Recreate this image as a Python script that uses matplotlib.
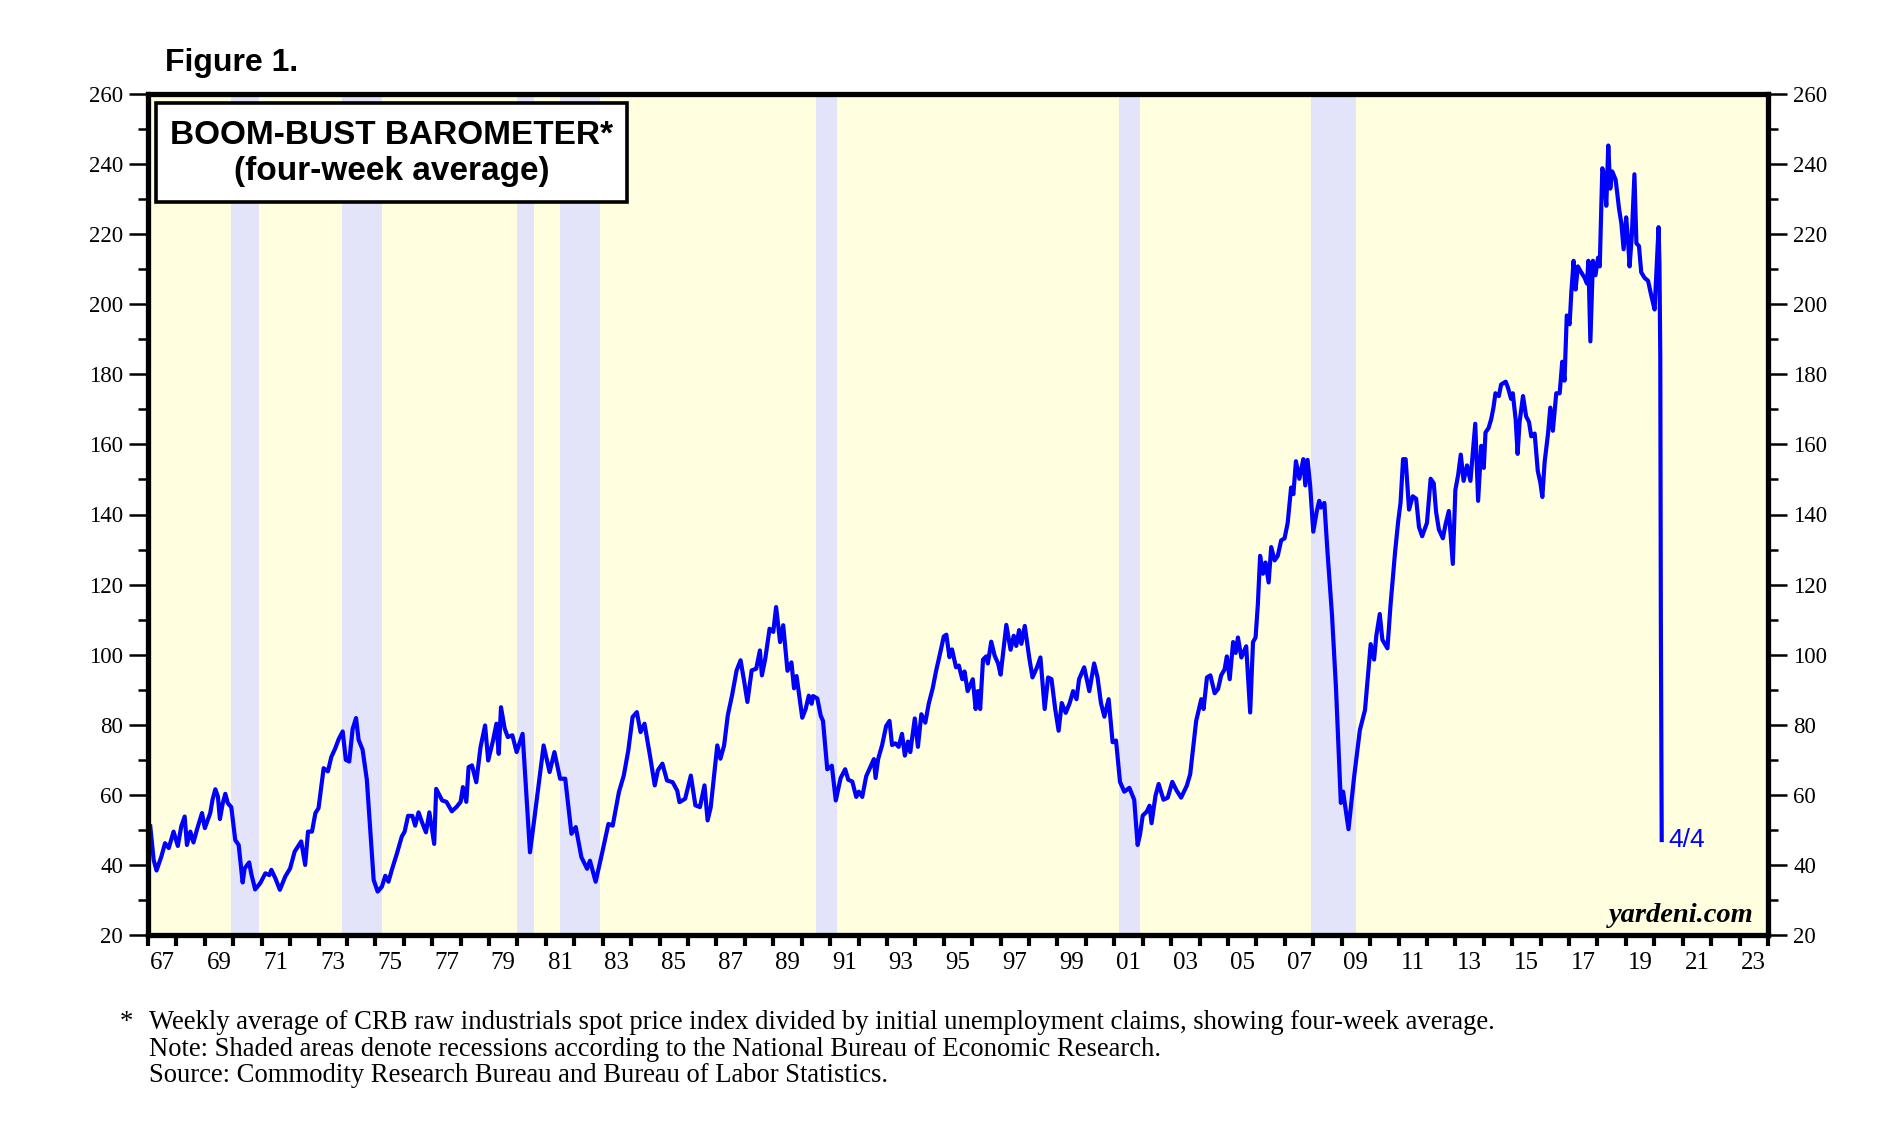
import matplotlib
matplotlib.use("Agg")
import matplotlib.pyplot as plt
from matplotlib.patches import Rectangle
from matplotlib.ticker import FixedLocator, NullFormatter, FixedFormatter, MultipleLocator

# ---------------- data ----------------
dates = [
    1967.08, 1967.2, 1967.3, 1967.47, 1967.6, 1967.73, 1967.9, 1968.05, 1968.17, 1968.29,
    1968.37, 1968.49, 1968.6, 1968.72, 1968.9, 1969.0, 1969.19, 1969.27, 1969.37, 1969.46,
    1969.53, 1969.63, 1969.72, 1969.81, 1969.93, 1970.07, 1970.19, 1970.33, 1970.4, 1970.56,
    1970.63, 1970.77, 1970.95, 1971.13, 1971.27, 1971.34, 1971.48, 1971.64, 1971.83, 1972.0,
    1972.16, 1972.39, 1972.53, 1972.63, 1972.77, 1972.89, 1973.0, 1973.18, 1973.33, 1973.45,
    1973.59, 1973.71, 1973.85, 1973.96, 1974.08, 1974.2, 1974.32, 1974.41, 1974.55, 1974.7,
    1974.94, 1975.08, 1975.23, 1975.35, 1975.46, 1975.58, 1975.76, 1975.93, 1976.03, 1976.15,
    1976.3, 1976.4, 1976.52, 1976.64, 1976.78, 1976.9, 1977.07, 1977.14, 1977.35, 1977.5,
    1977.69, 1977.85, 1978.0, 1978.08, 1978.2, 1978.28, 1978.4, 1978.55, 1978.7, 1978.86,
    1978.97, 1979.14, 1979.26, 1979.34, 1979.42, 1979.55, 1979.66, 1979.82, 1979.97, 1980.18,
    1980.44, 1980.6, 1980.92, 1981.13, 1981.3, 1981.5, 1981.68, 1981.9, 1982.05, 1982.25,
    1982.45, 1982.55, 1982.75, 1982.97, 1983.2, 1983.35, 1983.57, 1983.74, 1983.9, 1984.05,
    1984.2, 1984.33, 1984.47, 1984.67, 1984.83, 1984.94, 1985.1, 1985.26, 1985.46, 1985.62,
    1985.7, 1985.9, 1986.1, 1986.26, 1986.42, 1986.58, 1986.69, 1986.8, 1986.93, 1987.03,
    1987.14, 1987.27, 1987.4, 1987.55, 1987.71, 1987.85, 1987.98, 1988.09, 1988.24, 1988.4,
    1988.53, 1988.6, 1988.72, 1988.87, 1989.0, 1989.1, 1989.24, 1989.35, 1989.5, 1989.64,
    1989.73, 1989.82, 1990.02, 1990.14, 1990.25, 1990.35, 1990.4, 1990.55, 1990.67, 1990.75,
    1990.9, 1991.06, 1991.2, 1991.37, 1991.53, 1991.64, 1991.78, 1991.92, 1992.01, 1992.13,
    1992.27, 1992.42, 1992.54, 1992.6, 1992.69, 1992.83, 1992.97, 1993.09, 1993.18, 1993.3,
    1993.41, 1993.53, 1993.63, 1993.74, 1993.82, 1993.98, 1994.09, 1994.21, 1994.35, 1994.47,
    1994.61, 1994.73, 1994.84, 1995.0, 1995.09, 1995.2, 1995.29, 1995.43, 1995.53, 1995.65,
    1995.73, 1995.84, 1996.02, 1996.12, 1996.2, 1996.28, 1996.38, 1996.49, 1996.55, 1996.67,
    1996.79, 1996.91, 1997.0, 1997.2, 1997.35, 1997.46, 1997.55, 1997.65, 1997.73, 1997.85,
    1998.0, 1998.12, 1998.28, 1998.4, 1998.55, 1998.67, 1998.79, 1998.92, 1999.04, 1999.15,
    1999.29, 1999.43, 1999.55, 1999.67, 1999.76, 1999.94, 2000.12, 2000.29, 2000.41, 2000.53,
    2000.65, 2000.8, 2000.94, 2001.06, 2001.2, 2001.35, 2001.53, 2001.7, 2001.82, 2001.9,
    2002.0, 2002.14, 2002.24, 2002.31, 2002.45, 2002.56, 2002.73, 2002.88, 2003.04, 2003.18,
    2003.35, 2003.55, 2003.67, 2003.88, 2004.06, 2004.14, 2004.26, 2004.38, 2004.53, 2004.65,
    2004.76, 2004.88, 2004.96, 2005.06, 2005.18, 2005.27, 2005.35, 2005.47, 2005.64, 2005.78,
    2005.88, 2005.97, 2006.05, 2006.13, 2006.23, 2006.32, 2006.43, 2006.52, 2006.64, 2006.75,
    2006.87, 2006.99, 2007.1, 2007.22, 2007.3, 2007.39, 2007.51, 2007.65, 2007.72, 2007.8,
    2007.89, 2008.0, 2008.12, 2008.21, 2008.27, 2008.39, 2008.5, 2008.66, 2008.8, 2008.97,
    2009.05, 2009.24, 2009.44, 2009.64, 2009.82, 2009.94, 2010.02, 2010.14, 2010.22, 2010.34,
    2010.43, 2010.61, 2010.72, 2010.88, 2010.99, 2011.07, 2011.16, 2011.25, 2011.37, 2011.5,
    2011.62, 2011.72, 2011.83, 2012.0, 2012.13, 2012.24, 2012.32, 2012.42, 2012.56, 2012.65,
    2012.77, 2012.91, 2013.0, 2013.1, 2013.19, 2013.29, 2013.41, 2013.53, 2013.7, 2013.8,
    2013.91, 2014.0, 2014.06, 2014.17, 2014.26, 2014.34, 2014.41, 2014.53, 2014.61, 2014.77,
    2014.85, 2014.96, 2015.02, 2015.12, 2015.19, 2015.26, 2015.38, 2015.49, 2015.59, 2015.67,
    2015.79, 2015.9, 2015.99, 2016.06, 2016.14, 2016.26, 2016.34, 2016.43, 2016.55, 2016.67,
    2016.76, 2016.84, 2016.92, 2017.02, 2017.08, 2017.16, 2017.23, 2017.31, 2017.43, 2017.55,
    2017.63, 2017.68, 2017.75, 2017.84, 2017.93, 2018.02, 2018.08, 2018.17, 2018.23, 2018.31,
    2018.38, 2018.45, 2018.52, 2018.64, 2018.76, 2018.84, 2018.92, 2019.01, 2019.07, 2019.13,
    2019.21, 2019.3, 2019.37, 2019.46, 2019.54, 2019.66, 2019.78, 2019.89, 2020.01, 2020.15,
    2020.18, 2020.21, 2020.23, 2020.26,
]
values = [
    51.0, 41.4, 38.4, 42.4, 46.2, 44.8, 49.5, 45.4, 51.0, 53.8,
    45.7, 49.5, 46.4, 50.0, 54.8, 50.5, 54.8, 58.6, 61.6, 59.5,
    53.1, 57.6, 60.3, 57.6, 56.5, 47.1, 45.7, 35.0, 39.0, 40.7,
    37.6, 33.0, 34.8, 37.6, 37.1, 38.6, 36.2, 32.9, 36.7, 39.0,
    43.8, 46.7, 40.0, 49.5, 49.5, 54.8, 56.2, 67.6, 66.7, 70.8,
    73.3, 75.9, 78.1, 70.0, 69.5, 78.8, 81.9, 75.7, 72.9, 64.3,
    35.7, 32.4, 33.8, 36.9, 35.2, 38.6, 43.3, 48.1, 49.5, 54.0,
    54.0, 51.2, 55.0, 52.2, 49.3, 55.0, 46.0, 61.7, 58.4, 58.0,
    55.3, 56.5, 58.0, 62.2, 58.0, 67.9, 68.4, 63.6, 73.6, 79.8,
    69.8, 75.5, 80.3, 71.7, 85.0, 78.9, 76.5, 77.0, 72.2, 77.4,
    43.6, 53.6, 74.1, 66.5, 72.2, 64.6, 64.6, 48.9, 50.8, 42.2,
    38.9, 41.2, 35.2, 43.1, 51.7, 51.2, 60.8, 65.5, 72.7, 82.2,
    83.6, 77.9, 80.3, 70.8, 62.7, 67.0, 68.9, 64.1, 63.6, 61.2,
    57.9, 58.9, 65.5, 57.0, 56.5, 62.7, 52.7, 56.5, 66.5, 74.1,
    70.3, 74.1, 82.7, 88.4, 95.5, 98.4, 92.2, 86.5, 95.5, 96.0,
    101.2, 94.1, 98.9, 107.4, 106.5, 113.6, 103.6, 108.4, 95.4, 97.8,
    90.4, 93.9, 82.0, 84.5, 88.3, 86.0, 88.2, 87.5, 82.6, 81.1,
    67.3, 68.3, 58.4, 64.8, 67.3, 64.3, 63.8, 59.4, 60.9, 59.4,
    65.3, 68.0, 70.2, 64.8, 70.2, 74.2, 79.6, 81.1, 74.2, 74.7,
    73.7, 77.4, 71.2, 75.2, 72.2, 81.8, 73.7, 83.0, 80.6, 86.0,
    90.4, 95.4, 99.3, 105.2, 105.7, 99.3, 101.5, 96.4, 96.9, 93.0,
    95.2, 89.6, 93.0, 84.5, 89.6, 84.5, 98.6, 99.5, 97.5, 103.7,
    99.7, 97.5, 94.3, 108.5, 101.4, 105.4, 102.5, 107.0, 103.1, 108.2,
    99.5, 93.5, 96.4, 99.2, 84.5, 93.5, 93.0, 84.5, 78.3, 86.2,
    83.4, 86.2, 89.6, 87.3, 93.0, 96.4, 89.6, 97.5, 93.5, 86.2,
    82.3, 87.3, 75.0, 75.5, 63.7, 60.9, 62.0, 58.6, 45.7, 48.5,
    54.1, 55.2, 56.9, 51.9, 59.8, 63.1, 58.6, 59.2, 63.7, 61.4,
    59.2, 62.6, 65.9, 81.1, 87.3, 84.5, 93.5, 94.1, 89.0, 90.2,
    94.1, 95.8, 99.5, 93.0, 103.6, 100.5, 104.9, 99.2, 102.4, 83.5,
    103.6, 104.9, 114.3, 128.2, 123.1, 126.3, 120.6, 130.7, 126.9, 128.2,
    132.6, 133.2, 137.6, 147.7, 145.8, 155.2, 150.2, 155.8, 148.3, 155.6,
    148.3, 135.1, 140.8, 143.9, 142.0, 143.3, 129.4, 111.2, 90.4, 57.7,
    60.9, 50.2, 65.3, 78.5, 84.2, 95.5, 103.0, 98.6, 105.5, 111.6,
    104.3, 101.8, 114.3, 129.4, 138.2, 143.3, 155.8, 155.8, 141.4, 145.2,
    144.5, 136.4, 133.8, 137.6, 150.2, 148.9, 140.8, 135.7, 133.2, 137.0,
    141.0, 125.9, 147.0, 151.4, 157.1, 149.6, 154.0, 149.6, 165.9, 143.9,
    159.6, 153.3, 163.4, 164.7, 167.2, 170.5, 174.6, 173.8, 177.1, 177.9,
    176.2, 173.0, 174.6, 167.2, 157.3, 166.4, 173.8, 168.0, 166.4, 162.3,
    163.1, 152.4, 149.1, 145.0, 154.9, 163.1, 170.5, 163.9, 174.6, 174.6,
    183.6, 178.2, 196.8, 194.3, 203.4, 212.4, 204.2, 210.8, 209.1, 207.5,
    205.9, 212.4, 189.4, 212.4, 208.3, 213.3, 210.8, 238.8, 237.1, 228.1,
    245.3, 233.0, 237.9, 235.5, 227.2, 223.1, 215.7, 224.8, 219.0, 210.8,
    219.8, 237.1, 217.4, 216.6, 209.1, 207.5, 206.7, 202.6, 198.5, 222.0,
    212.0, 185.0, 110.0, 47.1,
]

recession_starts = [1969.92, 1973.83, 1980.00, 1981.50, 1990.50, 2001.17, 2007.92]
recession_ends = [1970.92, 1975.25, 1980.58, 1982.92, 1991.25, 2001.92, 2009.50]

year_ticks = list(range(1967, 2025))
label_years = list(range(1967, 2024, 2))
label_texts = ["%02d" % (y % 100) for y in label_years]
y_major = list(range(20, 261, 20))

# ---------------- figure ----------------
W, H = 1886, 1128
fig = plt.figure(figsize=(W / 100, H / 100), dpi=100)
fig.patch.set_facecolor("white")

L, R, T, B = 148, 1768, 94, 935
ax = fig.add_axes([L / W, 1 - B / H, (R - L) / W, (B - T) / H])
ax.set_facecolor("#FFFFE0")
ax.set_xlim(1967, 2024)
ax.set_ylim(20, 260)

for s, e in zip(recession_starts, recession_ends):
    ax.axvspan(s, e, color="#E3E3FA", lw=0, zorder=1)

ax.plot(dates, values, color="#0000FF", lw=3.0, zorder=3, solid_joinstyle="round")

ax.annotate("4/4", xy=(dates[-1], values[-1]), xytext=(5, 0), textcoords="offset points",
            ha="left", va="center", color="#0000FF", fontsize=19, family="Liberation Sans")

for sp in ax.spines.values():
    sp.set_linewidth(3.8)
    sp.set_zorder(5)

serif = "Liberation Serif"
# y axis
ax.yaxis.set_major_locator(FixedLocator(y_major))
ax.yaxis.set_minor_locator(MultipleLocator(10))
ax.tick_params(axis="y", which="both", direction="out", left=True, right=True,
               labelleft=True, labelright=True)
ax.tick_params(axis="y", which="major", length=14, width=1.8, pad=4, labelsize=16.5)
ax.tick_params(axis="y", which="minor", length=7, width=1.8)

# x axis: tick marks each year, labels centred mid-year
ax.xaxis.set_major_locator(FixedLocator(year_ticks))
ax.xaxis.set_major_formatter(NullFormatter())
ax.xaxis.set_minor_locator(FixedLocator([y + 0.5 for y in label_years]))
ax.xaxis.set_minor_formatter(FixedFormatter(label_texts))
ax.tick_params(axis="x", which="major", direction="out", length=8, width=3.0, bottom=True, top=False)
ax.tick_params(axis="x", which="minor", length=0, pad=12, labelsize=18)
for lab in ax.get_xticklabels(minor=True):
    lab.set_family(serif)
for lab in ax.get_yticklabels(which="both"):
    lab.set_family(serif)

# ---------------- texts ----------------
fig.text(165 / W, 1 - 62.5 / H, "Figure 1.", ha="left", va="center", fontsize=23,
         fontweight="bold", family="Liberation Sans")

bx0, by0, bx1, by1 = 156, 103, 627, 202
fig.add_artist(Rectangle((bx0 / W, 1 - by1 / H), (bx1 - bx0) / W, (by1 - by0) / H,
                         transform=fig.transFigure, facecolor="white", edgecolor="black",
                         lw=2.6, zorder=10))
cx = (bx0 + bx1) / 2
fig.text(cx / W, 1 - 136 / H, "BOOM-BUST BAROMETER*", ha="center", va="center",
         fontsize=24, fontweight="bold", family="Liberation Sans", zorder=11)
fig.text(cx / W, 1 - 171 / H, "(four-week average)", ha="center", va="center",
         fontsize=24, fontweight="bold", family="Liberation Sans", zorder=11)

fig.text(1754 / W, 1 - 916 / H, "yardeni.com", ha="right", va="center", fontsize=20.5,
         fontweight="bold", fontstyle="italic", family=serif, zorder=11)

foot = [
    "Weekly average of CRB raw industrials spot price index divided by initial unemployment claims, showing four-week average.",
    "Note: Shaded areas denote recessions according to the National Bureau of Economic Research.",
    "Source: Commodity Research Bureau and Bureau of Labor Statistics.",
]
fig.text(120 / W, 1 - 1022.5 / H, "*", ha="left", va="center", fontsize=19.2, family=serif)
for i, line in enumerate(foot):
    fig.text(149 / W, 1 - (1022.5 + 26.5 * i) / H, line, ha="left", va="center",
             fontsize=19.2, family=serif)

fig.savefig("out.png", dpi=100)
